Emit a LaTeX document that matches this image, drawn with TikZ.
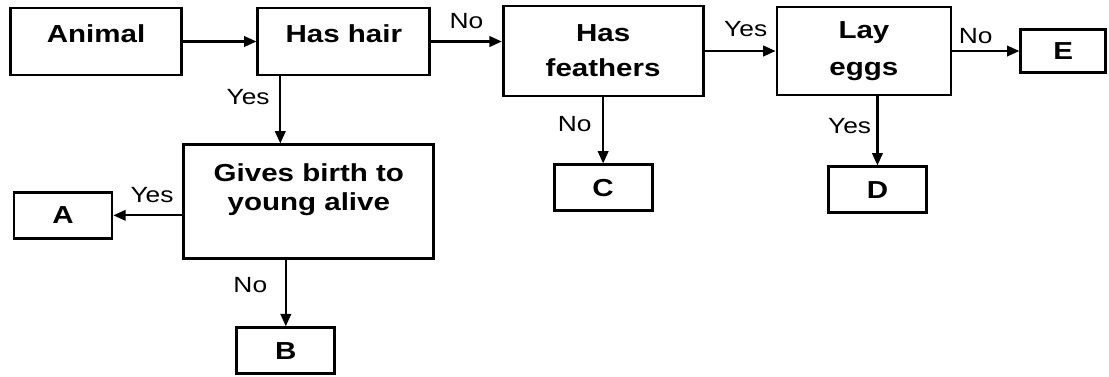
\documentclass[tikz,border=0pt]{standalone}
\usepackage{fontspec}
\setmainfont{Liberation Sans}[FakeStretch=1.2]
\usetikzlibrary{arrows.meta,positioning}

\begin{document}
\begin{tikzpicture}[
  node distance=1.4cm and 1.45cm,
  box/.style={
    rectangle,
    draw=black,
    line width=1.6pt,
    align=center,
    font=\fontsize{14}{16}\selectfont\bfseries
  },
  leaf/.style={
    box,
    minimum width=1.96cm,
    minimum height=0.92cm
  },
  arrow/.style={-{Triangle[length=7pt,width=6pt]}, line width=1.2pt},
  tag/.style={font=\fontsize{12.5}{14}\selectfont, inner sep=1.5pt}
]
\useasboundingbox (-1.92,0.83) rectangle (20.26,-6.69);

\node[box, minimum width=3.42cm, minimum height=1.34cm, text depth=0.32cm] (animal) {Animal};
\node[box, right=1.47cm of animal, minimum width=3.44cm, minimum height=1.34cm, text depth=0.32cm] (hair) {Has hair};
\node[box, right=1.41cm of hair, yshift=-0.19cm, minimum width=4cm, minimum height=1.8cm] (feathers) {Has\\[4pt]feathers};
\node[box, right=1.42cm of feathers, minimum width=3.48cm, minimum height=1.76cm] (lay) {Lay\\[5pt]eggs};
\node[leaf, right=1.34cm of lay, minimum width=1.7cm, minimum height=0.86cm] (e) {E};

\node[box, below=1.34cm of hair, xshift=-0.7cm, minimum width=5cm, minimum height=2.28cm, text depth=0.59cm] (birth) {Gives birth to\\young alive};
\node[leaf, left=1.38cm of birth, yshift=-0.27cm] (a) {A};
\node[leaf, below=1.32cm of birth, xshift=-0.46cm] (b) {B};
\node[leaf, below=1.32cm of feathers] (c) {C};
\node[leaf, below=1.38cm of lay, xshift=0.27cm] (d) {D};

\draw[arrow] (animal) -- (hair);
\draw[arrow] (hair.east) -- (hair.east -| feathers.west) node[tag, midway, above=5pt] {No};
\draw[arrow] (feathers) -- (lay) node[tag, pos=0.58, above=6pt] {Yes};
\draw[arrow] (lay) -- (e) node[tag, pos=0.35, above=2pt] {No};
\draw[arrow] ([xshift=-1.27cm]hair.south) -- ([xshift=-1.27cm]hair.south |- birth.north) node[tag, pos=0.31, left=4pt] {Yes};
\draw[arrow] (birth.west |- a) -- (a) node[tag, pos=0.44, above=5pt] {Yes};
\draw[arrow] (birth.south -| b) -- (b) node[tag, pos=0.37, left=8.5pt] {No};
\draw[arrow] (feathers) -- (c) node[tag, pos=0.41, left=4.5pt] {No};
\draw[arrow] (lay.south -| d) -- (d) node[tag, pos=0.43, left=1.5pt] {Yes};
\end{tikzpicture}
\end{document}
